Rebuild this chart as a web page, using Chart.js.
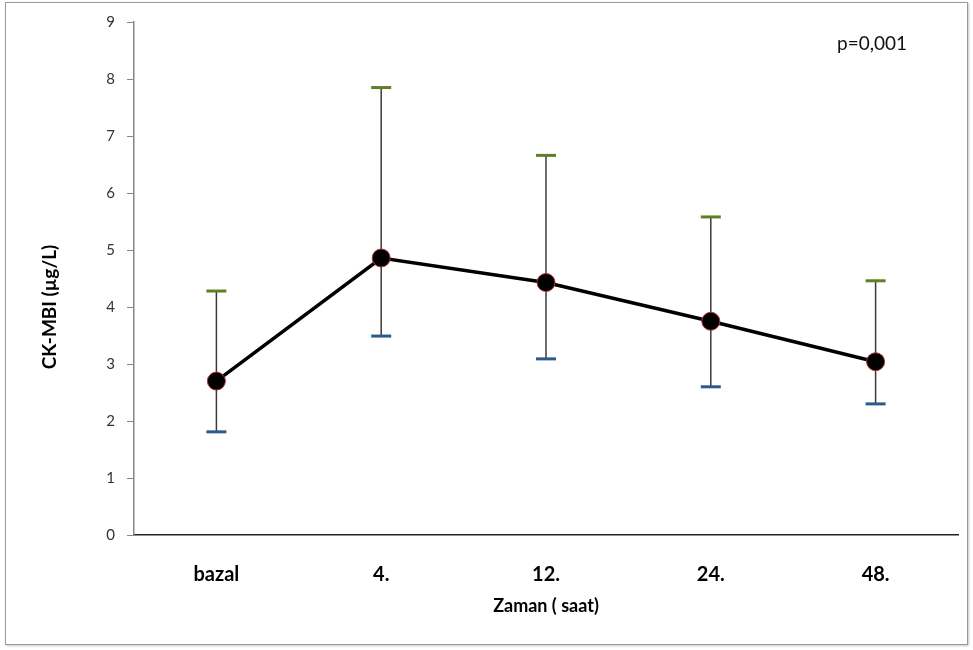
<!DOCTYPE html>
<html>
<head>
<meta charset="utf-8">
<script src="https://cdn.jsdelivr.net/npm/chart.js@4.4.1/dist/chart.umd.min.js"></script>
<style>
  html, body { margin: 0; padding: 0; background: #fff; }
  #wrap { position: relative; width: 973px; height: 650px; }
  #frame { position: absolute; left: 5px; top: 2px; width: 961px; height: 641px; border: 1px solid #9a9a9a; box-shadow: 1px 1px 2px #c8c8c8; pointer-events: none; }
  canvas { position: absolute; left: 0; top: 0; }
</style>
</head>
<body>
<div id="wrap">
  <canvas id="ck-chart" width="973" height="650"></canvas>
  <div id="frame"></div>
</div>
<script>
(()=>{
    const labels = ['bazal', '4.', '12.', '24.', '48.'];
    const means = [2.70, 4.86, 4.43, 3.75, 3.04];
    const upper = [4.28, 7.85, 6.66, 5.58, 4.46];
    const lower = [1.81, 3.49, 3.09, 2.60, 2.30];
    const pText = 'p=0,001';
    const yTitle = 'CK-MBI (µg/L)';

    const FONT = 'Lato, "Open Sans", sans-serif';
    const ctx = document.getElementById('ck-chart');

    // error bars, drawn behind the line and markers
    const errorBars = {
        id: 'errorBars',
        beforeDatasetsDraw(chart) {
            const c = chart.ctx;
            const xs = chart.scales.x;
            const ys = chart.scales.y;
            c.save();
            labels.forEach((lab, i) => {
                const x = xs.getPixelForValue(i);
                const yt = ys.getPixelForValue(upper[i]);
                const yb = ys.getPixelForValue(lower[i]);
                c.strokeStyle = '#3a3a3a';
                c.lineWidth = 1.5;
                c.beginPath();
                c.moveTo(x, yt);
                c.lineTo(x, yb);
                c.stroke();
                // caps
                c.lineWidth = 3;
                c.strokeStyle = '#5f7f24';
                c.beginPath();
                c.moveTo(x - 10, yt);
                c.lineTo(x + 10, yt);
                c.stroke();
                c.strokeStyle = '#2c5a8c';
                c.beginPath();
                c.moveTo(x - 10, yb);
                c.lineTo(x + 10, yb);
                c.stroke();
            });
            c.restore();
        },
        afterDraw(chart) {
            const c = chart.ctx;
            const area = chart.chartArea;
            c.save();
            c.font = '19px ' + FONT;
            c.fillStyle = '#111';
            c.textAlign = 'left';
            c.textBaseline = 'middle';
            c.fillText(pText, area.right - 121, area.top + 22);
            // y axis title, sits a bit below the middle like the original
            c.font = 'bold 19px ' + FONT;
            c.fillStyle = '#000';
            c.textAlign = 'center';
            c.translate(50, 307);
            c.rotate(-Math.PI / 2);
            c.fillText(yTitle, 0, 0);
            c.restore();
        }
    };

    new Chart(ctx, {
        type: 'line',
        data: {
            labels: labels,
            datasets: [
                {
                    label: 'CK-MBI',
                    data: means,
                    borderColor: '#000',
                    borderWidth: 3.5,
                    pointRadius: 9,
                    pointBackgroundColor: '#000',
                    pointBorderColor: '#b03030',
                    pointBorderWidth: 1,
                    tension: 0
                }
            ]
        },
        options: {
            responsive: false,
            animation: false,
            layout: {
                padding: { left: 0, right: 15, top: 22, bottom: 0 }
            },
            plugins: {
                legend: { display: false },
                tooltip: { enabled: false }
            },
            scales: {
                x: {
                    offset: true,
                    grid: {
                        display: false,
                        offset: true
                    },
                    border: { display: true, color: '#222', width: 1.5 },
                    ticks: {
                        padding: 20,
                        color: '#000',
                        font: { family: FONT, size: 20, weight: 'bold' }
                    },
                    title: {
                        display: true,
                        text: 'Zaman ( saat)',
                        color: '#000',
                        font: { family: FONT, size: 18, weight: 'bold' },
                        padding: { top: 0, bottom: 33 }
                    },
                    afterFit: (scale) => { scale.height = 115; }
                },
                y: {
                    min: 0,
                    max: 9,
                    grid: {
                        drawOnChartArea: false,
                        drawTicks: true,
                        tickLength: 7,
                        color: '#888'
                    },
                    border: { display: true, color: '#888', width: 1.5 },
                    ticks: {
                        stepSize: 1,
                        padding: 12,
                        color: '#333',
                        font: { family: FONT, size: 15 }
                    },
                    afterFit: (scale) => { scale.width = 134; }
                }
            }
        },
        plugins: [errorBars]
    });
})()
</script>
</body>
</html>
